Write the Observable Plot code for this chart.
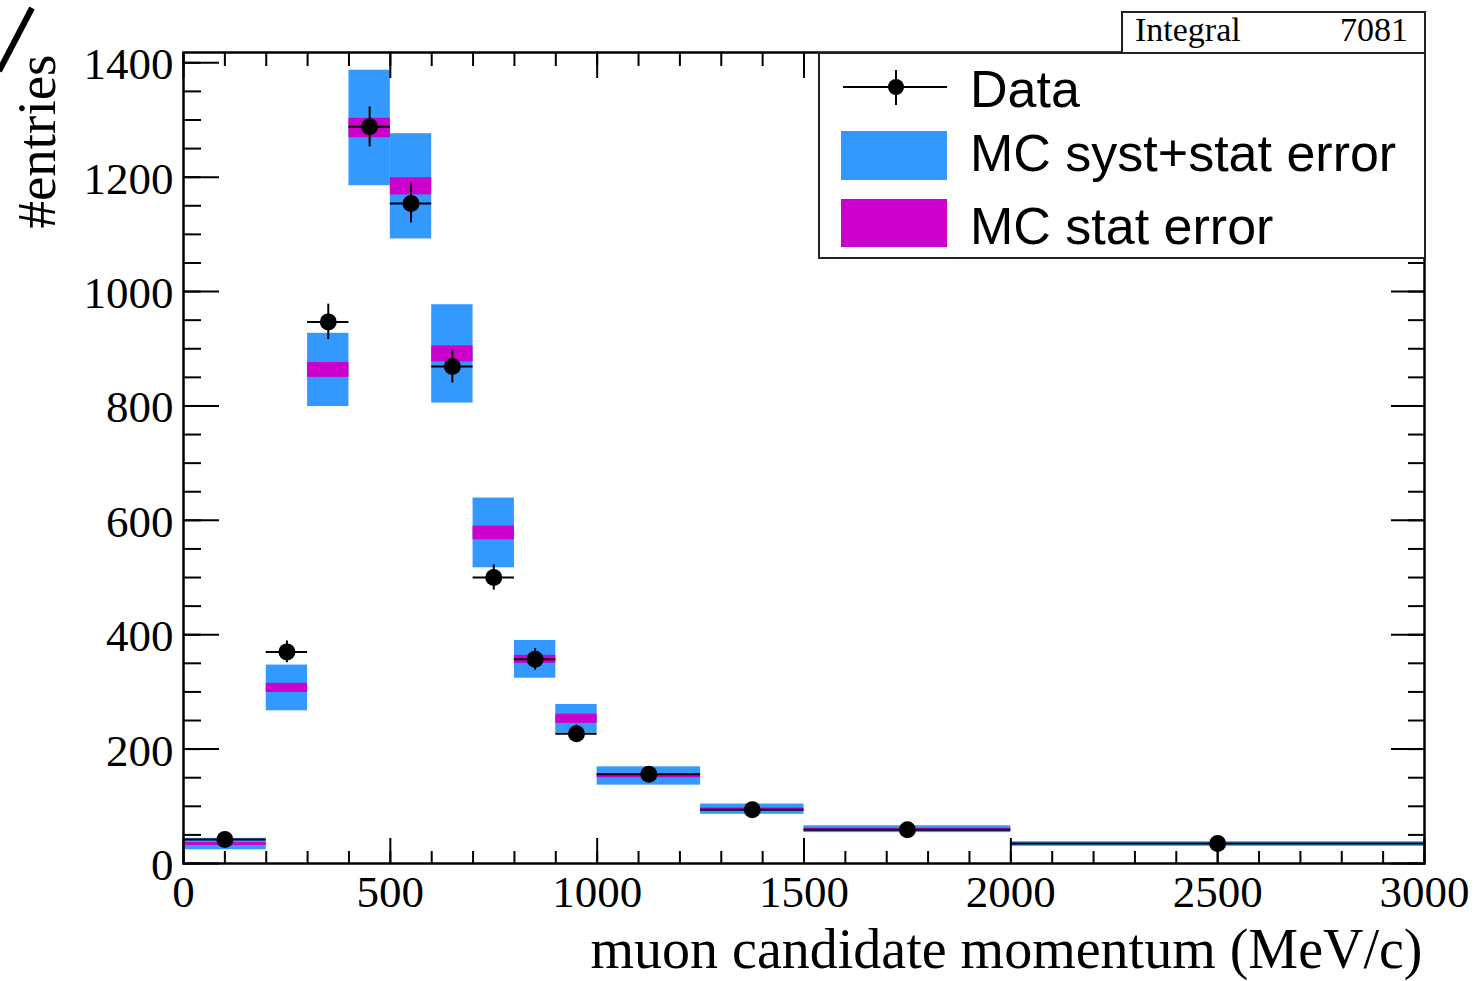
<!DOCTYPE html>
<html>
<head>
<meta charset="utf-8">
<script src="https://cdn.jsdelivr.net/npm/d3@7"></script>
<script src="https://cdn.jsdelivr.net/npm/@observablehq/plot@0.6"></script>
<style>
html, body { margin: 0; padding: 0; background: #fff; }
#wrap { position: relative; width: 1474px; height: 981px; overflow: hidden; background: #fff; }
#wrap > svg { display: block; }
#overlay { position: absolute; left: 0; top: 0; pointer-events: none; }
</style>
</head>
<body>
<div id="wrap"></div>
<script>
// ---- data ----
const binEdges = [0, 200, 300, 400, 500, 600, 700, 800, 900, 1000, 1250, 1500, 2000, 3000];
const dataValues = [42, 370, 947, 1288, 1154, 869, 500, 357, 227, 156, 94, 59, 35];
const dataErrors = [5, 19, 31, 35, 34, 29, 22, 19, 15, 8, 6, 3, 2];
const mcValues = [34, 307, 863, 1286, 1184, 891, 578, 357, 253, 153, 95, 60, 34];
const mcSystStatErrors = [10, 40, 64, 101, 92, 86, 61, 33, 25, 16, 9, 6, 4];
const mcStatErrors = [2.5, 8, 13, 17, 15, 14, 12, 7, 8, 3, 2, 1.5, 1];
const xTickLabels = [0, 500, 1000, 1500, 2000, 2500, 3000];
const yTickLabels = [0, 200, 400, 600, 800, 1000, 1200, 1400];
const xMinorTicks = d3.range(0, 3001, 100);
const yMinorTicks = d3.range(0, 1401, 50);
const legendLabels = ["Data", "MC syst+stat error", "MC stat error"];
const xTitle = "muon candidate momentum (MeV/c)";
const yTitle = "#entries";
const integralLabel = "Integral";
const integralValue = 7081;

const blue = "#3399ff";
const magenta = "#cc00cc";
const serif = "'Liberation Serif', 'Times New Roman', serif";
const sans = "'Liberation Sans', Arial, sans-serif";

const bins = dataValues.map((v, i) => ({
  lo: binEdges[i], hi: binEdges[i + 1], center: (binEdges[i] + binEdges[i + 1]) / 2,
  data: v, err: dataErrors[i], mc: mcValues[i], syst: mcSystStatErrors[i], stat: mcStatErrors[i]
}));

const noText = () => null;
const chart = Plot.plot({
  width: 1474, height: 981,
  marginLeft: 183, marginRight: 50, marginTop: 52, marginBottom: 118,
  x: {domain: [0, 3000], label: null},
  y: {domain: [0, 1418], label: null},
  style: {fontFamily: serif, background: "white", overflow: "visible", color: "black"},
  marks: [
    Plot.rect(bins, {x1: "lo", x2: "hi", y1: d => d.mc - d.syst, y2: d => d.mc + d.syst, fill: blue}),
    Plot.rect(bins, {x1: "lo", x2: "hi", y1: d => d.mc - d.stat, y2: d => d.mc + d.stat, fill: magenta}),
    Plot.ruleY(bins, {x1: "lo", x2: "hi", y: "data", stroke: "black", strokeWidth: 2}),
    Plot.ruleX(bins, {x: "center", y1: d => d.data - d.err, y2: d => d.data + d.err, stroke: "black", strokeWidth: 2}),
    Plot.dot(bins, {x: "center", y: "data", r: 8.5, fill: "black"}),
    // inward ticks on all four sides
    Plot.axisX(xMinorTicks, {anchor: "bottom", tickSize: -12, tickFormat: noText, label: null, strokeWidth: 2}),
    Plot.axisX(xTickLabels, {anchor: "bottom", tickSize: -25, tickFormat: noText, label: null, strokeWidth: 2}),
    Plot.axisX(xMinorTicks, {anchor: "top", tickSize: -13, tickFormat: noText, label: null, strokeWidth: 2}),
    Plot.axisX(xTickLabels, {anchor: "top", tickSize: -25, tickFormat: noText, label: null, strokeWidth: 2}),
    Plot.axisY(yMinorTicks, {anchor: "left", tickSize: -18, tickFormat: noText, label: null, strokeWidth: 2}),
    Plot.axisY(yTickLabels, {anchor: "left", tickSize: -36, tickFormat: noText, label: null, strokeWidth: 2}),
    Plot.axisY(yMinorTicks, {anchor: "right", tickSize: -17, tickFormat: noText, label: null, strokeWidth: 2}),
    Plot.axisY(yTickLabels, {anchor: "right", tickSize: -34, tickFormat: noText, label: null, strokeWidth: 2}),
    // labels
    Plot.axisX(xTickLabels, {anchor: "bottom", tickSize: 0, tickPadding: 12, tickFormat: d => String(d), label: null, fontSize: 45, fontFamily: serif}),
    Plot.axisY(yTickLabels, {anchor: "left", tickSize: 0, tickPadding: 10, dy: 2, tickFormat: d => String(d), label: null, fontSize: 45, fontFamily: serif}),
    Plot.frame({stroke: "black", strokeWidth: 2.5}),
    Plot.text([xTitle], {frameAnchor: "bottom-right", textAnchor: "end", dy: 104, dx: -2, fontSize: 56, fontFamily: serif, fill: "black"}),
    Plot.text([yTitle], {frameAnchor: "top-left", textAnchor: "end", rotate: -90, dx: -168, dy: 2, fontSize: 55, fontFamily: serif, fill: "black"})
  ]
});
const wrap = document.getElementById("wrap");
wrap.appendChild(chart);

// ---- overlay: stats box, legend, corner stroke ----
const ns = "http://www.w3.org/2000/svg";
const ov = document.createElementNS(ns, "svg");
ov.setAttribute("id", "overlay");
ov.setAttribute("width", 1474);
ov.setAttribute("height", 981);
function add(tag, attrs, text) {
  const el = document.createElementNS(ns, tag);
  for (const k in attrs) el.setAttribute(k, attrs[k]);
  if (text != null) el.textContent = text;
  ov.appendChild(el);
  return el;
}
add("line", {x1: 32, y1: 8, x2: -1, y2: 71, stroke: "black", "stroke-width": 6});
// stats box
add("rect", {x: 1122, y: 12, width: 303, height: 41, fill: "white", stroke: "#222", "stroke-width": 2});
add("text", {x: 1135, y: 41, "font-family": serif, "font-size": 34, fill: "black"}, integralLabel);
add("text", {x: 1408, y: 41, "text-anchor": "end", "font-family": serif, "font-size": 34, fill: "black"}, String(integralValue));
// legend box
add("rect", {x: 819, y: 53, width: 606, height: 205, fill: "white", stroke: "#222", "stroke-width": 2});
add("line", {x1: 843, y1: 87, x2: 947, y2: 87, stroke: "black", "stroke-width": 2});
add("line", {x1: 896, y1: 70, x2: 896, y2: 105, stroke: "black", "stroke-width": 2});
add("circle", {cx: 896, cy: 87, r: 8, fill: "black"});
add("rect", {x: 841, y: 131, width: 106, height: 49, fill: blue});
add("rect", {x: 841, y: 199, width: 106, height: 48, fill: magenta});
const legendBaselines = [107, 171, 244];
legendLabels.forEach((t, i) => add("text", {x: 970, y: legendBaselines[i], "font-family": sans, "font-size": 52, fill: "black"}, t));
wrap.appendChild(ov);
</script>
</body>
</html>
